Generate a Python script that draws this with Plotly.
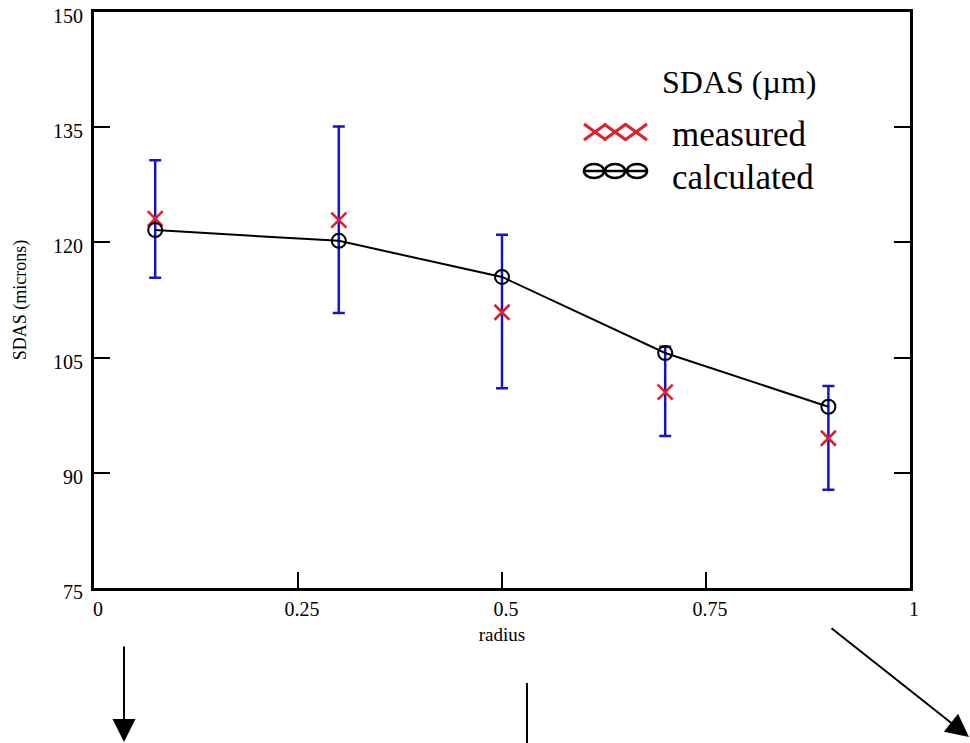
import plotly.graph_objects as go

radius = [0.075, 0.3, 0.5, 0.7, 0.9]
measured = [123.1, 122.9, 110.9, 100.5, 94.5]
err_plus = [7.6, 12.2, 10.1, 5.9, 6.8]
err_minus = [7.7, 12.1, 9.9, 5.7, 6.7]
calculated = [121.6, 120.2, 115.5, 105.6, 98.6]
y_ticks = [75, 90, 105, 120, 135, 150]
x_ticks = [0, 0.25, 0.5, 0.75, 1]
x_tick_labels = ["0", "0.25", "0.5", "0.75", "1"]

FONT = "Liberation Serif"
RED = "#e0202c"


def px(x):
    return (x - 94) / 816


def py(y):
    return (588 - y) / 576


fig = go.Figure()
fig.add_trace(go.Scatter(
    x=radius, y=measured, mode="markers",
    marker=dict(symbol="x-thin", size=15, line=dict(color=RED, width=2.6)),
    error_y=dict(type="data", symmetric=False, array=err_plus, arrayminus=err_minus,
                 color="#1414c8", thickness=2.5, width=6),
    showlegend=False,
))
fig.add_trace(go.Scatter(
    x=radius, y=calculated, mode="lines+markers",
    line=dict(color="black", width=2),
    marker=dict(symbol="circle-open", size=14, color="black", line=dict(color="black", width=2)),
    showlegend=False,
))

fig.update_xaxes(
    range=[0, 1], tickvals=x_ticks, ticktext=x_tick_labels,
    showline=True, linecolor="black", linewidth=3, mirror=True,
    ticks="inside", ticklen=16, tickwidth=2, tickcolor="black",
    showgrid=False, zeroline=False, automargin=False,
    tickfont=dict(family=FONT, size=20, color="black"),
    ticklabelshift=4, ticklabelstandoff=1,
    title=dict(text="radius", font=dict(family=FONT, size=19, color="black"), standoff=9),
)
fig.update_yaxes(
    range=[75, 150], tickvals=y_ticks,
    showline=True, linecolor="black", linewidth=3, mirror="ticks",
    ticks="inside", ticklen=16, tickwidth=2, tickcolor="black",
    showgrid=False, zeroline=False, automargin=False,
    tickfont=dict(family=FONT, size=20, color="black"),
    ticklabelshift=4, ticklabelstandoff=4,
    title=dict(text="SDAS (microns)", font=dict(family=FONT, size=18, color="black"), standoff=22),
)

annotations = [
    dict(x=px(818), y=py(82), xref="paper", yref="paper", text="SDAS (µm)",
         showarrow=False, xanchor="right", yanchor="middle",
         font=dict(family=FONT, size=32, color="black")),
    dict(x=px(670), y=py(135), xref="paper", yref="paper", text="measured",
         showarrow=False, xanchor="left", yanchor="middle",
         font=dict(family=FONT, size=35, color="black")),
    dict(x=px(670), y=py(177), xref="paper", yref="paper", text="calculated",
         showarrow=False, xanchor="left", yanchor="middle",
         font=dict(family=FONT, size=35, color="black")),
    # decorative arrows below the chart
    dict(x=px(124), y=py(743), xref="paper", yref="paper", text="",
         showarrow=True, ax=0, ay=-98, arrowhead=2, arrowsize=2.3, arrowwidth=2,
         arrowcolor="black"),
    dict(x=px(976), y=py(737), xref="paper", yref="paper", text="",
         showarrow=True, ax=-146, ay=-110, arrowhead=2, arrowsize=2.3, arrowwidth=2,
         arrowcolor="black"),
]

shapes = [
    dict(type="line", xref="paper", yref="paper",
         x0=px(527), x1=px(527), y0=py(683), y1=py(760),
         line=dict(color="black", width=2)),
]

# legend glyphs: three red crosses and three barred circles
for cx in (595, 615, 636):
    shapes.append(dict(type="line", xref="paper", yref="paper",
                       x0=px(cx - 11), x1=px(cx + 11), y0=py(124), y1=py(140),
                       line=dict(color=RED, width=3)))
    shapes.append(dict(type="line", xref="paper", yref="paper",
                       x0=px(cx - 11), x1=px(cx + 11), y0=py(140), y1=py(124),
                       line=dict(color=RED, width=3)))
for cx in (594, 615, 637):
    shapes.append(dict(type="circle", xref="paper", yref="paper",
                       x0=px(cx - 10), x1=px(cx + 10), y0=py(164), y1=py(178),
                       line=dict(color="black", width=2.6)))
shapes.append(dict(type="line", xref="paper", yref="paper",
                   x0=px(584), x1=px(647), y0=py(171), y1=py(171),
                   line=dict(color="black", width=2.4)))

fig.update_layout(
    width=970, height=743,
    margin=dict(l=94, r=60, t=12, b=155, autoexpand=False),
    plot_bgcolor="white", paper_bgcolor="white",
    annotations=annotations, shapes=shapes,
)

fig.write_html("out.html")
